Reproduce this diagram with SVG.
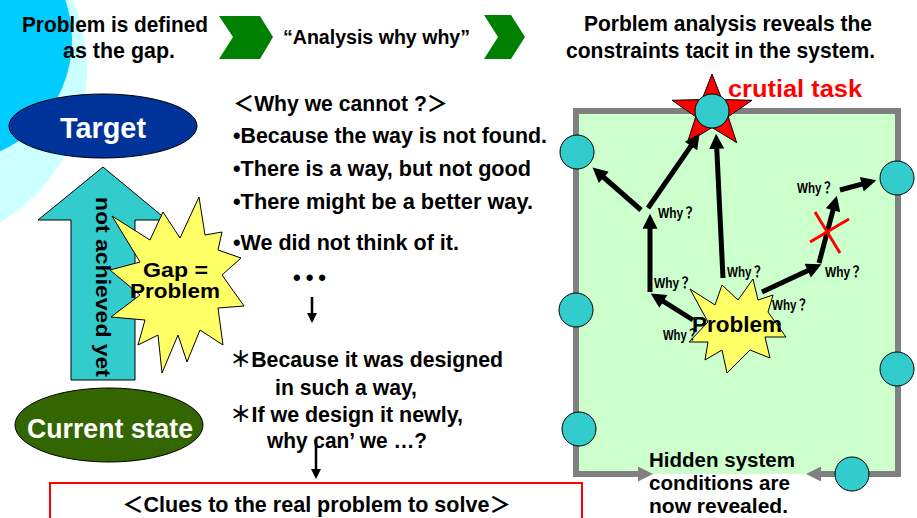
<svg xmlns="http://www.w3.org/2000/svg" width="917" height="518" viewBox="0 0 917 518">
<style>
.g{font-family:"Liberation Sans","Noto Sans CJK JP",sans-serif;font-weight:bold;fill:#000}
.a{font-family:"Liberation Sans","Noto Sans CJK JP",sans-serif;font-weight:bold}
.t22{font-size:22px}
.t20{font-size:20px}
.why{font-family:"Liberation Sans","Noto Sans CJK JP",sans-serif;font-weight:bold;font-size:15px;fill:#000}
.thick{stroke:#000;stroke-width:5;fill:none}
.thin{stroke:#000;stroke-width:2.5;fill:none}
.node{stroke:#000;stroke-width:1}
.circ{fill:#33cccc;stroke:#000;stroke-width:1}
</style>
<defs>
<marker id="bigHead" viewBox="0 0 10 10" refX="6.5" refY="5" markerWidth="3.4" markerHeight="3" orient="auto" markerUnits="strokeWidth">
<path d="M0,0 L10,5 L0,10 z" fill="#000"/>
</marker>
<marker id="smallHead" viewBox="0 0 10 10" refX="7.5" refY="5" markerWidth="4" markerHeight="4" orient="auto" markerUnits="strokeWidth">
<path d="M0,0 L10,5 L0,10 z" fill="#000"/>
</marker>
<marker id="grayHead" viewBox="0 0 10 10" refX="6" refY="5" markerWidth="2.8" markerHeight="2.5" orient="auto-start-reverse" markerUnits="strokeWidth">
<path d="M0,0 L10,5 L0,10 z" fill="#808080"/>
</marker>
</defs>

<rect x="0" y="0" width="917" height="518" fill="#fff"/>
<g id="background">
<circle cx="-90" cy="70" r="177" fill="#ccffff"/>
<circle cx="-50" cy="40" r="122" fill="#00ccff"/>
</g>

<g id="header">
<text class="g t22" x="22" y="32" textLength="186" lengthAdjust="spacingAndGlyphs">Problem is defined</text>
<text class="g t22" x="63" y="58" textLength="112" lengthAdjust="spacingAndGlyphs">as the gap.</text>
<polygon points="219,16 260,16 273,37 260,59 219,59 233,37" fill="#008000"/>
<text class="g t20" x="283" y="44" textLength="187" lengthAdjust="spacingAndGlyphs">“Analysis why why”</text>
<polygon points="484,15 511,15 525,37 511,59 484,59 498,37" fill="#008000"/>
<text class="g t22" x="584" y="31" textLength="288" lengthAdjust="spacingAndGlyphs">Porblem analysis reveals the</text>
<text class="g t22" x="566" y="58" textLength="309" lengthAdjust="spacingAndGlyphs">constraints tacit in the system.</text>
</g>

<g id="gap-arrow">
<polygon class="node" points="103,167 167,220 135,220 135,380 71,380 71,220 38,220" fill="#33cccc"/>
<text class="g" font-size="21" transform="translate(96,197) rotate(90)" textLength="180" lengthAdjust="spacingAndGlyphs">not achieved yet</text>
</g>

<g id="target">
<ellipse class="node" cx="103" cy="126" rx="94" ry="32" fill="#003399"/>
<text class="a" font-size="29" fill="#fff" x="60" y="138" textLength="86" lengthAdjust="spacingAndGlyphs">Target</text>
</g>

<g id="current-state">
<ellipse class="node" cx="109" cy="425" rx="94" ry="37" fill="#336600"/>
<text class="a" font-size="28" fill="#fff" x="27" y="438" textLength="166" lengthAdjust="spacingAndGlyphs">Current state</text>
</g>

<g id="gap-problem">
<polygon class="node" fill="#ffff66" points="199,197 205,235 222,232 218,250 241,258 222,275 244,306 218,308 223,345 200,330 187,362 178,335 162,373 158,335 138,345 145,320 111,317 140,295 110,270 140,262 112,216 150,240 163,212 180,238"/>
<text class="a" font-size="20" x="143" y="277" textLength="65" lengthAdjust="spacingAndGlyphs">Gap =</text>
<text class="a" font-size="20" x="130" y="298" textLength="90" lengthAdjust="spacingAndGlyphs">Problem</text>
</g>

<g id="reasons">
<text class="g t22" x="233" y="111" textLength="215" lengthAdjust="spacingAndGlyphs">＜Why we cannot ?＞</text>
<text class="g t22" x="233" y="143" textLength="314" lengthAdjust="spacingAndGlyphs">•Because the way is not found.</text>
<text class="g t22" x="233" y="176" textLength="298" lengthAdjust="spacingAndGlyphs">•There is a way, but not good</text>
<text class="g t22" x="233" y="209" textLength="300" lengthAdjust="spacingAndGlyphs">•There might be a better way.</text>
<text class="g t22" x="233" y="250" textLength="226" lengthAdjust="spacingAndGlyphs">•We did not think of it.</text>
<text class="g" font-size="22" x="293" y="285" textLength="33" lengthAdjust="spacing">•••</text>
<text class="g t22" x="230" y="367" textLength="273" lengthAdjust="spacingAndGlyphs">＊Because it was designed</text>
<text class="g t22" x="275" y="395" textLength="142" lengthAdjust="spacingAndGlyphs">in such a way,</text>
<text class="g t22" x="230" y="422" textLength="233" lengthAdjust="spacingAndGlyphs">＊If we design it newly,</text>
<text class="g t22" x="267" y="448" textLength="160" lengthAdjust="spacingAndGlyphs">why can’ we …?</text>
</g>

<g id="clues">
<rect x="50" y="483" width="532" height="60" fill="#fff" stroke="#ff0000" stroke-width="2"/>
<text class="g t22" x="122" y="512" textLength="389" lengthAdjust="spacingAndGlyphs">＜Clues to the real problem to solve＞</text>
</g>

<g id="system-box">
<rect x="576" y="111" width="322" height="363" fill="#ccffcc"/>
<path d="M647,474 H576 V111 H898 V474 H812" fill="none" stroke="#808080" stroke-width="6" stroke-linejoin="miter" marker-start="url(#grayHead)" marker-end="url(#grayHead)"/>
<text class="g t20" x="649" y="467" textLength="146" lengthAdjust="spacingAndGlyphs">Hidden system</text>
<text class="g t20" x="649" y="490" textLength="141" lengthAdjust="spacingAndGlyphs">conditions are</text>
<text class="g t20" x="649" y="513" textLength="139" lengthAdjust="spacingAndGlyphs">now revealed.</text>
</g>

<g id="crutial-task">
<polygon class="node" fill="#ff0000" points="712,74 722,99.5 751.9,100.3 728.2,116.8 736.7,142.7 712,127.5 687.3,142.7 695.8,116.8 672.1,100.3 702,99.5"/>
<circle class="circ" cx="712" cy="111" r="17"/>
<text class="a" font-size="24" fill="#ff0000" x="728" y="97" textLength="134" lengthAdjust="spacingAndGlyphs">crutial task</text>
</g>

<g id="constraints">
<circle class="circ" cx="577" cy="152" r="17"/>
<circle class="circ" cx="897" cy="178" r="17"/>
<circle class="circ" cx="576" cy="310" r="17"/>
<circle class="circ" cx="897" cy="369" r="17"/>
<circle class="circ" cx="579" cy="429" r="17"/>
<circle class="circ" cx="852" cy="474" r="17"/>
</g>

<g id="problem">
<polygon class="node" fill="#ffff66" points="753,279 758,300 773,295 768,312 786,337 765,337 770,358 750,350 727,373 722,350 705,360 708,342 689,342 708,322 690,289 715,305 722,285 738,300"/>
</g>

<g id="connectors">
<line class="thin" x1="312" y1="297" x2="312" y2="320.5" marker-end="url(#smallHead)"/>
<line class="thin" x1="316" y1="440" x2="316" y2="476.5" marker-end="url(#smallHead)"/>
<line class="thick" x1="693" y1="320" x2="655.1" y2="296.2" marker-end="url(#bigHead)"/>
<line class="thick" x1="650" y1="292" x2="650" y2="219" marker-end="url(#bigHead)"/>
<line class="thick" x1="641" y1="210" x2="596.5" y2="171" marker-end="url(#bigHead)"/>
<line class="thick" x1="648" y1="208" x2="696.6" y2="137.9" marker-end="url(#bigHead)"/>
<line class="thick" x1="723" y1="278" x2="716.3" y2="139" marker-end="url(#bigHead)"/>
<line class="thick" x1="762" y1="292" x2="816.6" y2="266.5" marker-end="url(#bigHead)"/>
<line class="thick" x1="819" y1="263" x2="835.5" y2="200.8" marker-end="url(#bigHead)"/>
<line class="thick" x1="840" y1="190" x2="871.2" y2="181.6" marker-end="url(#bigHead)"/>
<line x1="810" y1="242" x2="849" y2="219" stroke="#ff0000" stroke-width="3"/>
<line x1="815" y1="212" x2="840" y2="253" stroke="#ff0000" stroke-width="3"/>
</g>

<g id="why-labels">
<text class="why" x="658" y="218" textLength="37" lengthAdjust="spacingAndGlyphs">Why？</text>
<text class="why" x="654" y="288" textLength="37" lengthAdjust="spacingAndGlyphs">Why？</text>
<text class="why" x="727" y="277" textLength="36" lengthAdjust="spacingAndGlyphs">Why？</text>
<text class="why" x="825" y="277" textLength="37" lengthAdjust="spacingAndGlyphs">Why？</text>
<text class="why" x="797" y="193" textLength="36" lengthAdjust="spacingAndGlyphs">Why？</text>
<text class="why" x="772" y="310" textLength="36" lengthAdjust="spacingAndGlyphs">Why？</text>
<text class="why" x="663" y="340" textLength="35" lengthAdjust="spacingAndGlyphs">Why？</text>
<text class="a" font-size="22" x="692" y="332" textLength="90" lengthAdjust="spacingAndGlyphs">Problem</text>
</g>
</svg>
